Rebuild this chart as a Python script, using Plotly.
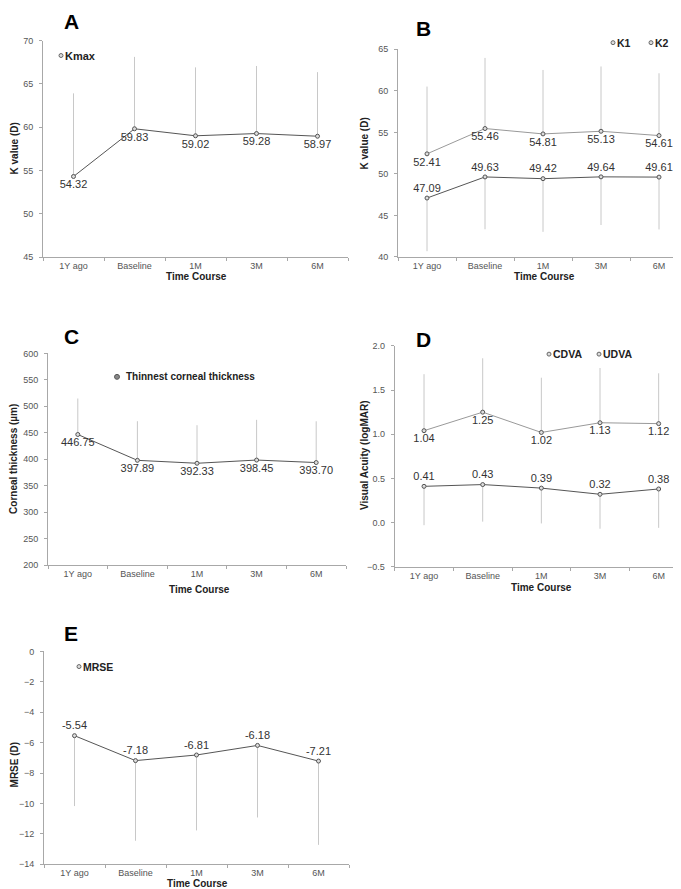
import plotly.graph_objects as go

W, H = 681, 889
FONT = "Liberation Sans, Arial, sans-serif"

categories = ["1Y ago", "Baseline", "1M", "3M", "6M"]

kmax_mean = [54.32, 59.83, 59.02, 59.28, 58.97]
kmax_sd = [9.6, 8.3, 7.9, 7.8, 7.4]

k1_mean = [47.09, 49.63, 49.42, 49.64, 49.61]
k1_sd = [6.4, 6.3, 6.4, 5.8, 6.3]
k2_mean = [52.41, 55.46, 54.81, 55.13, 54.61]
k2_sd = [8.1, 8.5, 7.7, 7.8, 7.5]

thick_mean = [446.75, 397.89, 392.33, 398.45, 393.70]
thick_sd = [68, 74, 72, 76, 78]

cdva_mean = [0.41, 0.43, 0.39, 0.32, 0.38]
cdva_sd = [0.44, 0.42, 0.40, 0.39, 0.44]
udva_mean = [1.04, 1.25, 1.02, 1.13, 1.12]
udva_sd = [0.64, 0.61, 0.62, 0.62, 0.57]

mrse_mean = [-5.54, -7.18, -6.81, -6.18, -7.21]
mrse_sd = [4.63, 5.27, 4.96, 4.74, 5.51]

DARK = "#555555"
LIGHT = "#999999"
ERR = "#c8c8c8"
AXIS = "#a8a8a8"


def xd(a, b):
    return [a / W, b / W]


def yd(top, bottom):
    return [1 - bottom / H, 1 - top / H]


fig = go.Figure()


def series(n, mean, sd, up, color, textpos):
    zeros = [0] * len(sd)
    sfx = "" if n == 1 else str(n)
    fig.add_trace(go.Scatter(
        x=categories, y=mean, xaxis="x" + sfx, yaxis="y" + sfx,
        mode="lines+markers+text",
        line=dict(color=color, width=1),
        marker=dict(size=4, color="#dddddd", line=dict(color=DARK, width=1)),
        text=[f"{v:.2f}" for v in mean],
        textposition=textpos,
        textfont=dict(family=FONT, size=11, color="#333333"),
        error_y=dict(type="data", symmetric=False,
                     array=sd if up else zeros,
                     arrayminus=zeros if up else sd,
                     color=ERR, thickness=1, width=0),
        cliponaxis=False,
        showlegend=False,
    ))


series(1, kmax_mean, kmax_sd, True, DARK, "bottom center")
series(2, k2_mean, k2_sd, True, LIGHT, "bottom center")
series(2, k1_mean, k1_sd, False, DARK, "top center")
series(3, thick_mean, thick_sd, True, DARK, "bottom center")
series(4, udva_mean, udva_sd, True, LIGHT, "bottom center")
series(4, cdva_mean, cdva_sd, False, DARK, "top center")
series(5, mrse_mean, mrse_sd, False, DARK, "top center")

panels = {
    1: dict(xdom=xd(35, 340), ydom=yd(28, 247), yr=[45, 70], dt=5, fmt=""),
    2: dict(xdom=xd(390, 680), ydom=yd(36.7, 246.7), yr=[40, 65], dt=5, fmt=""),
    3: dict(xdom=xd(40, 338), ydom=yd(344.3, 558.3), yr=[200, 600], dt=50, fmt=""),
    4: dict(xdom=xd(386.7, 680), ydom=yd(336.7, 560), yr=[-0.5, 2.0], dt=0.5, fmt=".1f"),
    5: dict(xdom=xd(36, 341), ydom=yd(645.7, 861), yr=[-14, 0], dt=2, fmt=""),
}

layout = dict(
    width=W, height=H,
    margin=dict(l=0, r=0, t=0, b=0),
    paper_bgcolor="white", plot_bgcolor="white",
    showlegend=False,
    font=dict(family=FONT, color="#444444"),
)

for n, p in panels.items():
    sfx = "" if n == 1 else str(n)
    layout["xaxis" + sfx] = dict(
        domain=p["xdom"], anchor="y" + sfx, type="category",
        categoryorder="array", categoryarray=categories,
        range=[-0.5, 4.5], tickson="boundaries",
        ticks="outside", ticklen=3, tickcolor=AXIS,
        showline=True, linecolor=AXIS, linewidth=1,
        showgrid=False, zeroline=False,
        tickfont=dict(family=FONT, size=9, color="#555555"),
    )
    layout["yaxis" + sfx] = dict(
        domain=p["ydom"], anchor="x" + sfx,
        range=p["yr"], dtick=p["dt"], tick0=p["yr"][0], tickformat=p["fmt"],
        ticks="outside", ticklen=3, tickcolor=AXIS,
        showline=True, linecolor=AXIS, linewidth=1,
        showgrid=False, zeroline=False, ticklabelstandoff=4,
        tickfont=dict(family=FONT, size=9, color="#555555"),
    )

fig.update_layout(**layout)


def ann(x, y, text, size=10, angle=0, xanchor="center", color="#222222",
        bold=True, yanchor="middle"):
    fig.add_annotation(
        x=x / W, y=1 - y / H, xref="paper", yref="paper",
        text=f"<b>{text}</b>" if bold else text,
        showarrow=False, textangle=angle, xanchor=xanchor, yanchor=yanchor,
        font=dict(family=FONT, size=size, color=color),
    )


# panel letters
for letter, (lx, ly) in {"A": (63, 9), "B": (415, 16), "C": (63, 327),
                          "D": (415, 330), "E": (63, 628)}.items():
    ann(lx, ly, letter, size=21, color="#000000")

# axis titles
for x, y in [(188, 267), (536, 267), (191, 583), (533, 581)]:
    ann(x, y, "Time Course", size=10)
ann(189, 888, "Time Course", size=10, yanchor="bottom")
ann(6, 137, "K value (D)", angle=-90)
ann(357, 132, "K value (D)", angle=-90)
ann(6, 451, "Corneal thickness (µm)", angle=-90)
ann(357, 448, "Visual Acuity (logMAR)", angle=-90)
ann(6, 760, "MRSE (D)", angle=-90)

# legends
legend_items = [
    (53, 43, "Kmax", 11, 2),
    (605, 30, "K1", 10.5, 2),
    (643, 30, "K2", 10.5, 2),
    (541, 345, "CDVA", 10.5, 2),
    (591, 345, "UDVA", 10.5, 2),
    (71, 661, "MRSE", 10.5, 2),
]
shapes = []
for cx, cy, label, fs, r in legend_items:
    shapes.append(dict(type="circle", xref="paper", yref="paper",
                       x0=(cx - r) / W, x1=(cx + r) / W,
                       y0=1 - (cy + r) / H, y1=1 - (cy - r) / H,
                       line=dict(color="#666666", width=1), fillcolor="#dddddd"))
    ann(cx + r, cy, label, size=fs, xanchor="left")

# thinnest corneal thickness legend (filled dot)
shapes.append(dict(type="circle", xref="paper", yref="paper",
                   x0=(109 - 2.5) / W, x1=(109 + 2.5) / W,
                   y0=1 - (368 + 2.5) / H, y1=1 - (368 - 2.5) / H,
                   line=dict(color="#555555", width=1), fillcolor="#888888"))
ann(116, 368, "Thinnest corneal thickness", size=10, xanchor="left")

fig.update_layout(shapes=shapes)

fig.write_html("out.html")
